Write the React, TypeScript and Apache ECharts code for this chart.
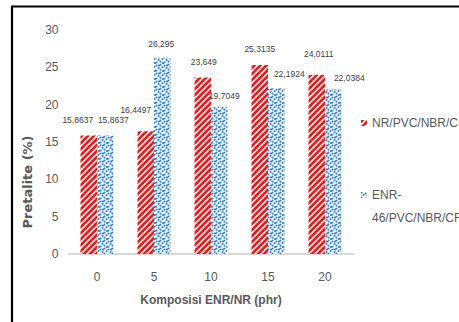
import React, { useEffect, useRef } from "react";
import * as echarts from "echarts";

// Composition of ENR/NR (phr)
const categories = ["0", "5", "10", "15", "20"];
// Swelling in Pretalite (%)
const nrValues = [15.8637, 16.4497, 23.649, 25.3135, 24.0111];
const enrValues = [15.8637, 26.295, 19.7049, 22.1924, 22.0384];
const seriesNames = ["NR/PVC/NBR/CF", "ENR-46/PVC/NBR/CF"];

const sans = "'Liberation Sans', Arial, sans-serif";
const grey = "#595959";

// label nudges [dx, dy] so value labels do not collide
const nrLabelShift = [[-11, -6.5], [-10, -12], [1, -6], [0, -6], [2, -11.5]];
const enrLabelShift = [[8, -6.5], [-1, -4.5], [5, -1], [13, -5], [16, -2]];

function stripePattern(): HTMLCanvasElement {
  const c = document.createElement("canvas");
  const s = 6;
  c.width = s;
  c.height = s;
  const ctx = c.getContext("2d")!;
  ctx.fillStyle = "#ffffff";
  ctx.fillRect(0, 0, s, s);
  ctx.strokeStyle = "#ff1010";
  ctx.lineWidth = 2.6;
  for (let k = -2; k <= 3; k++) {
    const cc = k * s + 1.75;
    ctx.beginPath();
    ctx.moveTo(cc + 12, -12);
    ctx.lineTo(cc - 12, 12);
    ctx.stroke();
  }
  return c;
}

function confettiPattern(): HTMLCanvasElement {
  const c = document.createElement("canvas");
  const s = 8;
  c.width = s;
  c.height = s;
  const ctx = c.getContext("2d")!;
  ctx.fillStyle = "#ffffff";
  ctx.fillRect(0, 0, s, s);
  ctx.fillStyle = "#2b7bcf";
  const dots = [
    [0.5, 0.5], [4.5, 1.5], [2.5, 3], [6.5, 4], [0.5, 5.5], [4.5, 6.5], [7, 1.5], [3, 7],
  ];
  for (const [x, y] of dots) {
    for (const ox of [0, s, -s]) {
      for (const oy of [0, s, -s]) {
        ctx.beginPath();
        ctx.arc(x + ox, y + oy, 1.05, 0, Math.PI * 2);
        ctx.fill();
      }
    }
  }
  return c;
}

const fmt = (p: any) => String(p.value).replace(".", ",");

export default function App() {
  const ref = useRef<HTMLDivElement>(null);

  useEffect(() => {
    if (!ref.current) return;
    const chart = echarts.init(ref.current, undefined, { renderer: "svg" });
    const red = { image: stripePattern(), repeat: "repeat" };
    const blue = { image: confettiPattern(), repeat: "repeat" };

    const labelBase = {
      show: true,
      position: "top",
      distance: 5,
      formatter: fmt,
      fontFamily: sans,
      fontSize: 8.5,
      color: "#404040",
    };

    chart.setOption({
      animation: false,
      backgroundColor: "#ffffff",
      grid: { left: 68.5, right: 105.5, top: 30, bottom: 68 },
      xAxis: {
        type: "category",
        data: categories,
        axisLine: { lineStyle: { color: "#d9d9d9", width: 2 } },
        axisTick: { show: false },
        axisLabel: { color: grey, fontFamily: sans, fontSize: 12, margin: 17 },
        name: "Komposisi ENR/NR (phr)",
        nameLocation: "middle",
        nameGap: 40,
        nameTextStyle: { color: grey, fontFamily: sans, fontSize: 12, fontWeight: "bold" },
      },
      yAxis: {
        type: "value",
        min: 0,
        max: 30,
        interval: 5,
        axisLine: { show: false },
        axisTick: { show: false },
        splitLine: { show: false },
        axisLabel: { color: grey, fontFamily: sans, fontSize: 12, margin: 10 },
      },
      legend: {
        orient: "vertical",
        left: 361,
        top: 111.5,
        padding: 0,
        itemGap: 26,
        itemWidth: 6,
        itemHeight: 6,
        icon: "rect",
        textStyle: { color: grey, fontFamily: sans, fontSize: 12, lineHeight: 23 },
        data: [{ name: seriesNames[0] }, { name: seriesNames[1] }],
        // the wrapped name keeps its marker beside the first line
        formatter: (n: string) => (n === seriesNames[1] ? " \nENR-\n46/PVC/NBR/CF" : n),
      },
      graphic: [
        {
          type: "polyline",
          shape: { points: [[12, 340], [12, 6.5], [480, 6.5]] },
          style: { stroke: "#000000", lineWidth: 2.2, fill: "none" },
          silent: true,
        },
        {
          type: "text",
          x: 27.5,
          y: 182,
          rotation: Math.PI / 2,
          style: {
            text: "Pretalite (%)",
            font: "bold 13px 'DejaVu Sans', sans-serif",
            fill: grey,
            align: "center",
            verticalAlign: "middle",
          },
        },
      ],
      series: [
        {
          name: seriesNames[0],
          type: "bar",
          barWidth: 16.5,
          barGap: "0%",
          itemStyle: { color: red },
          data: nrValues.map((v, i) => ({
            value: v,
            label: { ...labelBase, offset: nrLabelShift[i] },
          })),
        },
        {
          name: seriesNames[1],
          type: "bar",
          barWidth: 16.5,
          barGap: "0%",
          itemStyle: { color: blue },
          data: enrValues.map((v, i) => ({
            value: v,
            label: { ...labelBase, offset: enrLabelShift[i] },
          })),
        },
      ],
    });
    return () => chart.dispose();
  }, []);

  return (
    <div
      ref={ref}
      style={{ position: "fixed", left: 0, top: 0, width: 459, height: 322, background: "#fff" }}
    />
  );
}
